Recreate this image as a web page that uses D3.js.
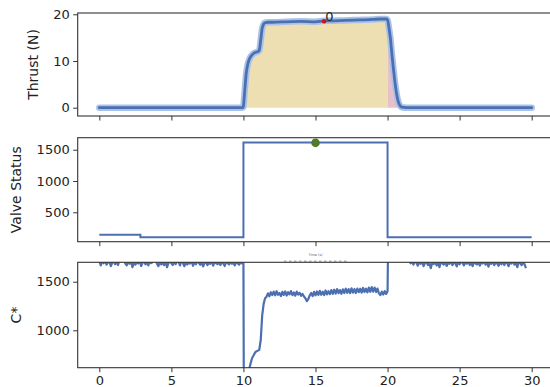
<!DOCTYPE html>
<html><head><meta charset="utf-8">
<script src="https://cdn.jsdelivr.net/npm/d3@7"></script>
<style>
body{margin:0;background:#fff;}
svg{display:block;font-family:"DejaVu Sans",sans-serif;}
</style></head>
<body>
<svg id="c" width="550" height="387"></svg>
<script>
// ---------- DATA ----------
const xTicks = [0,5,10,15,20,25,30];
const thrustTicks = [0,10,20];
const valveTicks = [500,1000,1500];
const cstarTicks = [1000,1500];

const thrustTime = [0,2,4,6,8,9.95,10.0,10.05,10.1,10.2,10.3,10.4,10.5,10.6,10.7,10.8,10.9,11.0,11.1,11.2,11.3,11.4,11.5,11.7,12,13,14,15,15.6,16,17,18,19,19.5,19.9,20.0,20.1,20.2,20.3,20.4,20.5,20.6,20.7,20.8,20.9,21.0,21.3,22,25,28,30];
const thrustVal  = [0,0,0,0,0,0,0.3,2.0,4.0,7.5,9.3,10.3,10.9,11.3,11.6,11.8,11.9,12.0,12.3,14.5,17.0,17.9,18.2,18.3,18.3,18.4,18.5,18.4,18.6,18.6,18.7,18.8,18.9,19.0,19.0,18.8,17.0,14.8,11.5,8.5,5.8,3.5,1.8,0.8,0.3,0.1,0,0,0,0,0];
const burnWindow = [10,20];
const tailWindow = [20,20.75];
const peakPoint = {t:15.6, v:18.5, label:"0"};

const valveTime = [0,2.85,10,20,30];
const valveVal  = [142,100,1615,100,100];
const valvePeak = {t:15, v:1610};

// C* before ignition (t = 0.0 .. 9.9, step 0.1)
const cstarPre = [1712,1668,1705,1690,1722,1675,1698,1710,1660,1695,
 1715,1680,1702,1672,1720,1708,1730,1725,1690,1668,
 1700,1685,1712,1650,1698,1676,1704,1688,1718,1662,
 1695,1710,1680,1700,1668,1715,1692,1705,1725,1735,
 1686,1660,1703,1678,1698,1670,1710,1650,1695,1708,
 1690,1672,1705,1682,1716,1700,1668,1724,1692,1660,
 1706,1676,1698,1688,1720,1664,1702,1680,1712,1694,
 1675,1700,1658,1690,1710,1670,1698,1684,1716,1666,
 1704,1692,1680,1708,1672,1700,1688,1662,1706,1694,
 1678,1710,1685,1698,1668,1702,1690,1676,1700,1688];
// C* during burn (t = 10.4 .. 20.0, step 0.1)
const cstarBurn = [600,660,715,740,770,785,790,800,900,1150,
 1270,1330,1345,1380,1350,1392,1362,1398,1360,1402,
 1366,1384,1352,1396,1364,1400,1358,1392,1370,1404,
 1362,1390,1356,1398,1368,1386,1354,1374,1348,1330,
 1300,1322,1360,1384,1352,1396,1360,1400,1364,1406,
 1366,1398,1362,1410,1370,1402,1372,1414,1374,1418,
 1378,1424,1382,1414,1376,1422,1384,1428,1386,1424,
 1382,1432,1388,1424,1384,1430,1392,1428,1388,1436,
 1394,1428,1390,1440,1396,1444,1398,1440,1394,1430,
 1380,1362,1398,1368,1404,1374,1402];
// C* after shutdown (t = 21.5 .. 29.6, step 0.1)
const cstarPost = [1720,1690,1705,1676,1712,1698,1665,1702,1684,1715,
 1660,1695,1708,1672,1690,1640,1700,1682,1712,1668,
 1696,1650,1705,1688,1676,1710,1662,1698,1684,1720,
 1670,1700,1690,1658,1706,1680,1712,1694,1668,1700,
 1686,1716,1672,1698,1660,1704,1690,1678,1710,1666,
 1700,1688,1714,1676,1696,1655,1706,1684,1718,1670,
 1698,1690,1664,1708,1680,1702,1672,1712,1692,1660,
 1704,1686,1720,1676,1698,1650,1708,1690,1670,1700,
 1682,1640];

// ---------- LAYOUT ----------
const svg = d3.select("#c");
const x = d3.scaleLinear().domain([-1.5,31.5]).range([77.7,553.3]);
const panels = [
  {top:13,   bottom:116,   domain:[-1.78,20.28], ticks:thrustTicks, label:"Thrust (N)",  lx:38, xlabels:false},
  {top:137.7,bottom:241.7, domain:[30,1692],     ticks:valveTicks,  label:"Valve Status",lx:21, xlabels:false},
  {top:262.3,bottom:367.7, domain:[615,1700],    ticks:cstarTicks,  label:"C*",          lx:21, xlabels:true}
];
const X0 = 77.7, X1 = 553.3;
const axisColor = "#333";
const lineBlue = "#4c6fb1";

panels.forEach((p,i)=>{
  p.y = d3.scaleLinear().domain(p.domain).range([p.bottom,p.top]);
  const id = "clip"+i;
  svg.append("clipPath").attr("id",id).append("rect")
    .attr("x",X0).attr("y",p.top).attr("width",X1-X0).attr("height",p.bottom-p.top);
  p.g = svg.append("g");
  p.plot = p.g.append("g").attr("clip-path",`url(#${id})`);
});

// ---------- PANEL 1: THRUST ----------
{
  const p = panels[0];
  const pts = thrustTime.map((t,i)=>({t, v:thrustVal[i]}));
  const area = d3.area().x(d=>x(d.t)).y0(p.y(0)).y1(d=>p.y(d.v));
  const inWin = w => pts.filter(d=>d.t>=w[0] && d.t<=w[1]);
  p.plot.append("path").datum(inWin(burnWindow)).attr("d",area).attr("fill","#eddfb1");
  p.plot.append("path").datum(inWin(tailWindow)).attr("d",area).attr("fill","#e7c1c9");
  const line = d3.line().x(d=>x(d.t)).y(d=>p.y(d.v)).curve(d3.curveMonotoneX);
  p.plot.append("path").datum(pts).attr("d",line).attr("fill","none")
    .attr("stroke","#a9c2e7").attr("stroke-width",6.5).attr("stroke-linejoin","round").attr("stroke-linecap","round");
  p.plot.append("path").datum(pts).attr("d",line).attr("fill","none")
    .attr("stroke",lineBlue).attr("stroke-width",2.8).attr("stroke-linejoin","round").attr("stroke-linecap","round");
  p.plot.append("circle").attr("cx",x(peakPoint.t)).attr("cy",p.y(peakPoint.v)).attr("r",2.3).attr("fill","#d0121b");
  p.g.append("text").attr("x",x(peakPoint.t)+1).attr("y",p.y(peakPoint.v)-0.5)
    .attr("font-size",13).attr("fill","#222").text(peakPoint.label);
}

// ---------- PANEL 2: VALVE ----------
{
  const p = panels[1];
  const pts = valveTime.map((t,i)=>({t, v:valveVal[i]}));
  const line = d3.line().x(d=>x(d.t)).y(d=>p.y(d.v)).curve(d3.curveStepAfter);
  p.plot.append("path").datum(pts).attr("d",line).attr("fill","none")
    .attr("stroke",lineBlue).attr("stroke-width",2);
  p.g.append("circle").attr("cx",x(valvePeak.t)).attr("cy",p.y(valvePeak.v)).attr("r",4.3).attr("fill","#4f7b2a");
}

// ---------- PANEL 3: C* ----------
{
  const p = panels[2];
  const pts = [];
  cstarPre.forEach((v,i)=>pts.push({t:+(i*0.1).toFixed(2), v}));
  pts.push({t:10.0, v:1690});
  pts.push({t:10.03, v:200});
  pts.push({t:10.37, v:200});
  cstarBurn.forEach((v,i)=>pts.push({t:+(10.4+i*0.1).toFixed(2), v}));
  pts.push({t:20.03, v:1800});
  pts.push({t:21.4, v:1800});
  cstarPost.forEach((v,i)=>pts.push({t:+(21.5+i*0.1).toFixed(2), v}));
  const line = d3.line().x(d=>x(d.t)).y(d=>p.y(d.v));
  p.plot.append("path").datum(pts).attr("d",line).attr("fill","none")
    .attr("stroke",lineBlue).attr("stroke-width",2.2).attr("stroke-linejoin","round");
}

// ---------- AXES ----------
panels.forEach(p=>{
  const ax = d3.axisLeft(p.y).tickValues(p.ticks).tickSize(4.5).tickPadding(3.5).tickFormat(d3.format("d"));
  const ga = p.g.append("g").attr("transform",`translate(${X0},0)`).call(ax);
  const bx = d3.axisBottom(x).tickValues(xTicks).tickSize(4.5).tickPadding(3.5).tickFormat(p.xlabels?d3.format("d"):()=>"");
  const gb = p.g.append("g").attr("transform",`translate(0,${p.bottom})`).call(bx);
  [ga,gb].forEach(g=>{
    g.select(".domain").remove();
    g.selectAll(".tick line").attr("stroke",axisColor).attr("stroke-width",1);
    g.selectAll(".tick text").attr("font-size",13).attr("fill","#222").attr("font-family","DejaVu Sans");
  });
  p.g.append("rect").attr("x",X0).attr("y",p.top).attr("width",X1-X0).attr("height",p.bottom-p.top)
    .attr("fill","none").attr("stroke",axisColor).attr("stroke-width",1.1);
  p.g.append("text").attr("transform",`translate(${p.lx},${(p.top+p.bottom)/2}) rotate(-90)`)
    .attr("text-anchor","middle").attr("font-size",14).attr("fill","#222").text(p.label);
});

// tiny stray axis label between panels 2 and 3
svg.append("text").attr("x",x(15)).attr("y",255.5).attr("text-anchor","middle")
  .attr("font-size",3.5).attr("fill","#666").text("Time (s)");
svg.append("line").attr("x1",284).attr("x2",347).attr("y1",261.2).attr("y2",261.2)
  .attr("stroke","#777").attr("stroke-width",0.9).attr("stroke-dasharray","2.5,2.5");
</script>
</body></html>
